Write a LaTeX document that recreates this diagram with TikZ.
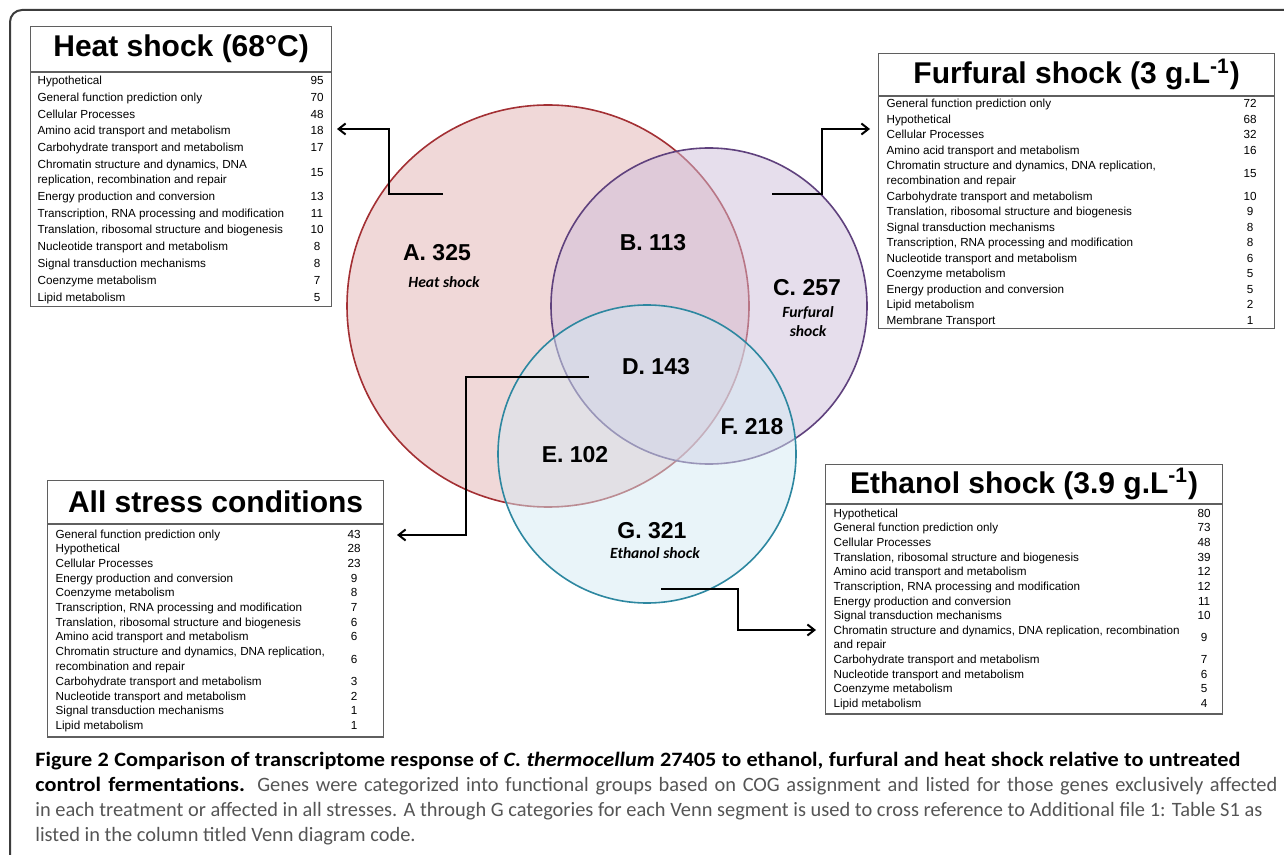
\documentclass[tikz,border=0pt]{standalone}
\usepackage{fontspec}
\setmainfont{Liberation Sans}
\newfontfamily\capfont{Carlito}[BoldFeatures={FakeStretch=1.09}, BoldItalicFeatures={FakeStretch=1.09}]
\newfontfamily\labfont{Carlito}
\usepackage{array}
\usetikzlibrary{positioning,arrows.meta}

\definecolor{heatline}{RGB}{163,48,52}
\definecolor{heatfill}{RGB}{226,178,178}
\definecolor{furfline}{RGB}{95,65,125}
\definecolor{furffill}{RGB}{205,189,217}
\definecolor{ethline}{RGB}{45,135,160}
\definecolor{ethfill}{RGB}{211,233,243}
\definecolor{boxgray}{RGB}{95,95,95}
\definecolor{framegray}{RGB}{60,60,60}
\definecolor{capgray}{RGB}{85,85,85}

\newcolumntype{L}[1]{>{\raggedright\arraybackslash}m{#1}}
\newcolumntype{N}{>{\centering\arraybackslash}m{10pt}}
\setlength{\tabcolsep}{0pt}

\begin{document}
\begin{tikzpicture}[
  x=0.5pt, y=-0.5pt,
  vennset/.style={circle, draw, line width=0.8pt, inner sep=0pt, minimum size=#1, fill opacity=0.5},
  venn/.style={font=\bfseries\fontsize{11.5pt}{13pt}\selectfont},
  vennsub/.style={font=\labfont\bfseries\itshape\fontsize{7.8pt}{9.5pt}\selectfont, align=center},
  tabtitle/.style={draw=boxgray, line width=0.6pt, inner sep=0pt, anchor=north west,
    font=\bfseries\fontsize{15pt}{18pt}\selectfont},
  tabbody/.style={draw=boxgray, line width=0.6pt, inner sep=0pt, font=\fontsize{5.85pt}{7.5pt}\selectfont},
  arr/.style={-{Straight Barb[length=3.5pt,width=5.5pt]}, line width=1pt},
]
  \useasboundingbox (0,0) rectangle (1284,855);
  \draw[framegray, line width=1pt, rounded corners=6pt] (10,900) |- (1300,10);

  % Venn sets
  \node[vennset=201pt, draw=heatline, fill=heatfill] (heat) at (548,306) {};
  \node[vennset=158pt, draw=furfline, fill=furffill] (furf) at (709,306) {};
  \node[vennset=149pt, draw=ethline, fill=ethfill] (eth) at (647,454) {};

  \node[venn] (segA) at (437,253) {A. 325};
  \node[vennsub] (subA) at (444,282) {Heat shock};
  \node[venn] (segB) at (653,243) {B. 113};
  \node[venn] (segC) at (807,288) {C. 257};
  \node[vennsub] (subC) at (808,322) {Furfural\\shock};
  \node[venn] (segD) at (656,367) {D. 143};
  \node[venn] (segE) at (575,455) {E. 102};
  \node[venn] (segF) at (752,427) {F. 218};
  \node[venn] (segG) at (652,531) {G. 321};
  \node[vennsub] (subG) at (655,553) {Ethanol shock};

  % Heat shock table
  \node[tabtitle, minimum width=150.5pt, minimum height=22.5pt] (heatT) at (30,26) {Heat shock (68°C)};
  \node[tabbody, below=0pt of heatT] (heatB) {\renewcommand\arraystretch{1.12}%
    \begin{tabular}{@{\hspace{3.5pt}}L{134.75pt}N@{\hspace{2.25pt}}}
      Hypothetical & 95\\
      General function prediction only & 70\\
      Cellular Processes & 48\\
      Amino acid transport and metabolism & 18\\
      Carbohydrate transport and metabolism & 17\\
      Chromatin structure and dynamics, DNA\newline replication, recombination and repair & 15\\
      Energy production and conversion & 13\\
      Transcription, RNA processing and modification & 11\\
      Translation, ribosomal structure and biogenesis & 10\\
      Nucleotide transport and metabolism & 8\\
      Signal transduction mechanisms & 8\\
      Coenzyme metabolism & 7\\
      Lipid metabolism & 5\\
    \end{tabular}};

  % Furfural shock table
  \node[tabtitle, minimum width=198pt, minimum height=21pt] (furfT) at (878,53) {Furfural shock (3 g.L\textsuperscript{-1})};
  \node[tabbody, below=0pt of furfT] (furfB) {\renewcommand\arraystretch{1.033}%
    \begin{tabular}{@{\hspace{4pt}}L{176.75pt}N@{\hspace{7.25pt}}}
      General function prediction only & 72\\
      Hypothetical & 68\\
      Cellular Processes & 32\\
      Amino acid transport and metabolism & 16\\
      Chromatin structure and dynamics, DNA replication,\newline recombination and repair & 15\\
      Carbohydrate transport and metabolism & 10\\
      Translation, ribosomal structure and biogenesis & 9\\
      Signal transduction mechanisms & 8\\
      Transcription, RNA processing and modification & 8\\
      Nucleotide transport and metabolism & 6\\
      Coenzyme metabolism & 5\\
      Energy production and conversion & 5\\
      Lipid metabolism & 2\\
      Membrane Transport & 1\\
    \end{tabular}};

  % All stress conditions table
  \node[tabtitle, minimum width=168pt, minimum height=21.5pt] (allT) at (47,480) {All stress conditions};
  \node[tabbody, below=0pt of allT, inner ysep=1.5pt] (allB) {\renewcommand\arraystretch{0.98}%
    \begin{tabular}{@{\hspace{4pt}}L{144.25pt}N@{\hspace{9.75pt}}}
      General function prediction only & 43\\
      Hypothetical & 28\\
      Cellular Processes & 23\\
      Energy production and conversion & 9\\
      Coenzyme metabolism & 8\\
      Transcription, RNA processing and modification & 7\\
      Translation, ribosomal structure and biogenesis & 6\\
      Amino acid transport and metabolism & 6\\
      Chromatin structure and dynamics, DNA replication,\newline recombination and repair & 6\\
      Carbohydrate transport and metabolism & 3\\
      Nucleotide transport and metabolism & 2\\
      Signal transduction mechanisms & 1\\
      Lipid metabolism & 1\\
    \end{tabular}};

  % Ethanol shock table
  \node[tabtitle, minimum width=198.5pt, minimum height=19.5pt] (ethT) at (825,464) {Ethanol shock (3.9 g.L\textsuperscript{-1})};
  \node[tabbody, below=0pt of ethT, inner ysep=1pt, font=\fontsize{5.85pt}{7pt}\selectfont] (ethB) {\renewcommand\arraystretch{1.05}%
    \begin{tabular}{@{\hspace{4pt}}L{180.25pt}N@{\hspace{4.25pt}}}
      Hypothetical & 80\\
      General function prediction only & 73\\
      Cellular Processes & 48\\
      Translation, ribosomal structure and biogenesis & 39\\
      Amino acid transport and metabolism & 12\\
      Transcription, RNA processing and modification & 12\\
      Energy production and conversion & 11\\
      Signal transduction mechanisms & 10\\
      Chromatin structure and dynamics, DNA replication, recombination\newline and repair & 9\\
      Carbohydrate transport and metabolism & 7\\
      Nucleotide transport and metabolism & 6\\
      Coenzyme metabolism & 5\\
      Lipid metabolism & 4\\
    \end{tabular}};

  % arrows from segments to tables
  \coordinate (heatsrc) at (443,194);
  \coordinate (heattip) at (337,129);
  \coordinate (furfsrc) at (772,194);
  \coordinate (furftip) at (870,129);
  \coordinate (allsrc) at (589,377);
  \coordinate (alltip) at (397,535);
  \coordinate (ethsrc) at (661,589);
  \coordinate (ethtip) at (816,630);
  \draw[arr] (heatsrc) -- ++(-54,0) |- (heattip);
  \draw[arr] (furfsrc) -- ++(50,0) |- (furftip);
  \draw[arr] (allsrc) -- ++(-123,0) |- (alltip);
  \draw[arr] (ethsrc) -- ++(77,0) |- (ethtip);

  % caption
  \node[anchor=north west, align=left, inner sep=0pt, text=capgray,
    font=\capfont\fontsize{10.2pt}{12.5pt}\selectfont] (caption) at (35,752)
    {\makebox[602.5pt][s]{\color{black}\bfseries Figure 2 Comparison of transcriptome response of \textit{C. thermocellum} 27405 to ethanol, furfural and heat shock relative to untreated}\\
     \makebox[621pt][s]{\textcolor{black}{\bfseries control fermentations.} Genes were categorized into functional groups based on COG assignment and listed for those genes exclusively affected}\\
     \makebox[613.5pt][s]{in each treatment or affected in all stresses. A through G categories for each Venn segment is used to cross reference to Additional file 1: Table S1 as}\\
     listed in the column titled Venn diagram code.};
\end{tikzpicture}
\end{document}
